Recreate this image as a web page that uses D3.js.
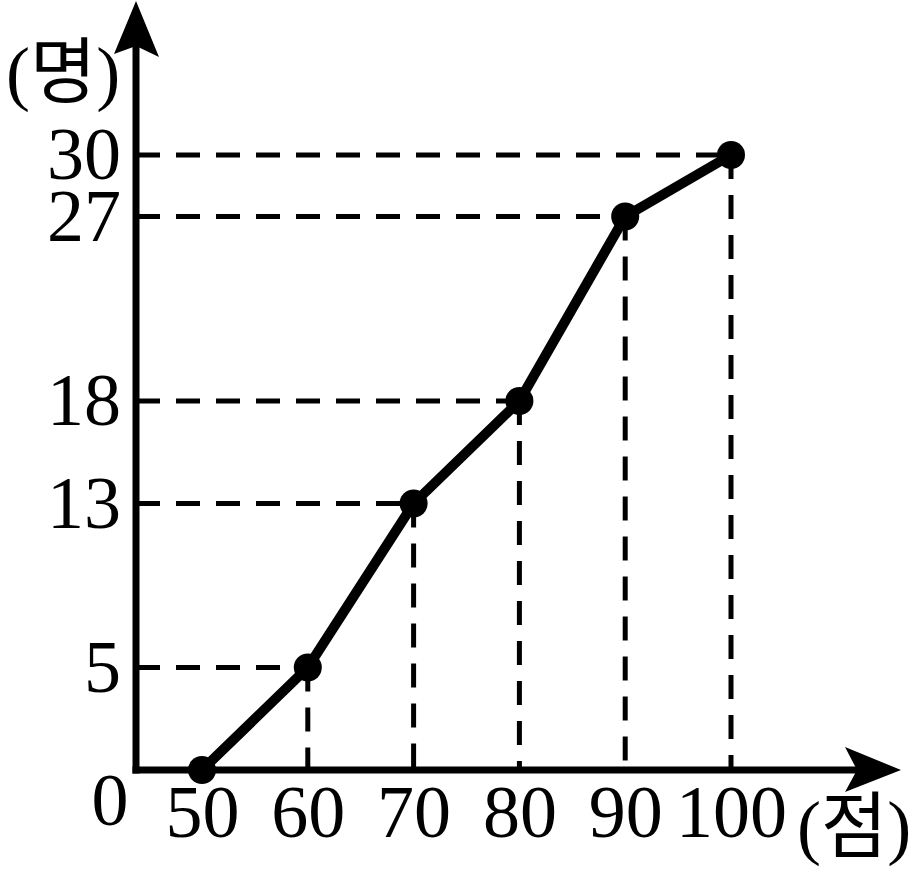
<!DOCTYPE html>
<html>
<head>
<meta charset="utf-8">
<script src="https://cdn.jsdelivr.net/npm/d3@7"></script>
<style>
  html, body { margin: 0; padding: 0; background: #fff; }
  svg { display: block; }
</style>
</head>
<body>
<script>
// ---- data ----
const scores = [50, 60, 70, 80, 90, 100];          // 점 (x)
const cumulative = [0, 5, 13, 18, 27, 30];         // 명 (cumulative count)
const xTickLabels = ["50", "60", "70", "80", "90", "100"];
const yTickValues = [5, 13, 18, 27, 30];
const yTickLabels = ["5", "13", "18", "27", "30"];
const originLabel = "0";
const yUnit = "(명)";
const xUnit = "(점)";

// ---- layout ----
const W = 911, H = 879;
const axisX = 136, axisY = 770;
const numFont = "'Liberation Serif', 'DejaVu Serif', serif";
const korFont = "'Liberation Serif', 'Noto Sans CJK KR', serif";

const svg = d3.select("body").append("svg").attr("width", W).attr("height", H);

const x = d3.scaleLinear().domain([50, 100]).range([202, 731]);
const y = d3.scaleLinear().domain([0, 30]).range([axisY, 155]);

const pts = scores.map((s, i) => ({ x: s, y: cumulative[i] }));

// dashed guide lines
const guides = svg.append("g")
  .attr("stroke", "#000").attr("stroke-width", 5)
  .attr("stroke-dasharray", "24,16").attr("fill", "none");
pts.filter(d => d.y > 0).forEach(d => {
  guides.append("line")
    .attr("x1", axisX).attr("y1", y(d.y))
    .attr("x2", x(d.x)).attr("y2", y(d.y));
  guides.append("line")
    .attr("x1", x(d.x)).attr("y1", y(d.y))
    .attr("x2", x(d.x)).attr("y2", axisY);
});

// axes lines
svg.append("line").attr("x1", axisX).attr("y1", axisY + 3.5).attr("x2", axisX).attr("y2", 40)
  .attr("stroke", "#000").attr("stroke-width", 7);
svg.append("line").attr("x1", axisX - 3.5).attr("y1", axisY).attr("x2", 870).attr("y2", axisY)
  .attr("stroke", "#000").attr("stroke-width", 7);
// arrow heads
svg.append("path").attr("d", `M${axisX},1 L${axisX + 23},57 L${axisX},46 L${axisX - 22},54 Z`).attr("fill", "#000");
svg.append("path").attr("d", `M901,${axisY} L845,${axisY - 23} L857,${axisY} L845,${axisY + 22} Z`).attr("fill", "#000");

// tick labels via axes
const xAxis = d3.axisBottom(x).tickValues(scores).tickFormat((d, i) => xTickLabels[i])
  .tickSize(0).tickPadding(14);
const gx = svg.append("g").attr("transform", `translate(0,${axisY})`).call(xAxis);
gx.select(".domain").remove();
gx.selectAll("text").attr("font-family", numFont).attr("font-size", 74).attr("fill", "#000");

const yAxis = d3.axisLeft(y).tickValues(yTickValues).tickFormat((d, i) => yTickLabels[i])
  .tickSize(0).tickPadding(15);
const gy = svg.append("g").attr("transform", `translate(${axisX},0)`).call(yAxis);
gy.select(".domain").remove();
gy.selectAll("text").attr("font-family", numFont).attr("font-size", 74).attr("fill", "#000");

// origin
svg.append("text").attr("x", 110).attr("y", 825).attr("text-anchor", "middle")
  .attr("font-family", numFont).attr("font-size", 74).text(originLabel);

// unit labels
svg.append("text").attr("x", 6).attr("y", 97).attr("font-family", korFont)
  .attr("font-size", 72).text(yUnit);
svg.append("text").attr("x", 797).attr("y", 851).attr("font-family", korFont)
  .attr("font-size", 72).text(xUnit);

// line + points
const line = d3.line().x(d => x(d.x)).y(d => y(d.y));
svg.append("path").datum(pts).attr("d", line)
  .attr("fill", "none").attr("stroke", "#000").attr("stroke-width", 10)
  .attr("stroke-linejoin", "round");
svg.selectAll("circle.pt").data(pts).enter().append("circle")
  .attr("class", "pt").attr("cx", d => x(d.x)).attr("cy", d => y(d.y)).attr("r", 14)
  .attr("fill", "#000");
</script>
</body>
</html>
